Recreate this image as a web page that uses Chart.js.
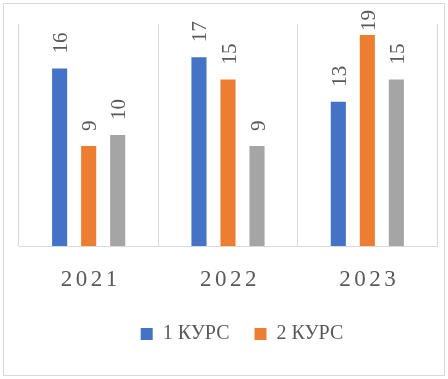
<!DOCTYPE html>
<html>
<head>
<meta charset="utf-8">
<script src="https://cdn.jsdelivr.net/npm/chart.js@4/dist/chart.umd.min.js"></script>
<style>
html,body{margin:0;padding:0;background:#fff;}
#wrap{position:relative;width:448px;height:379px;}
</style>
</head>
<body>
<div id="wrap"><canvas id="c" width="448" height="379"></canvas></div>
<script>
const categories = ['2021', '2022', '2023'];
const course1 = [16, 17, 13];
const course2 = [9, 15, 19];
const course3 = [10, 9, 15];
const seriesNames = ['1 КУРС', '2 КУРС', '3 КУРС'];
const yMax = 20;

const SERIF = "Liberation Serif";
Chart.defaults.font.family = SERIF;

const borderPlugin = {
  id: 'outerBorder',
  beforeDraw(chart) {
    const c = chart.ctx;
    c.save();
    c.fillStyle = '#fff';
    c.fillRect(0, 0, chart.width, chart.height);
    c.strokeStyle = '#d9d9d9';
    c.lineWidth = 1;
    c.strokeRect(3.5, 3.5, 441, 372);
    c.restore();
    const xs = chart.scales.x;
    if (xs && !xs._patched) {
      const orig = xs.drawLabels;
      xs.drawLabels = function (area) {
        const cx = this.ctx;
        cx.save();
        cx.letterSpacing = '3.5px';
        cx.translate(2, 0);
        orig.call(this, area);
        cx.restore();
      };
      xs._patched = true;
    }
    const lg = chart.legend;
    if (lg && !lg._patched) {
      const origL = lg.draw;
      lg.draw = function () {
        const cx = this.ctx;
        cx.save();
        cx.translate(14, 0);
        origL.apply(this, arguments);
        cx.restore();
      };
      lg._patched = true;
    }
  }
};

const labelPlugin = {
  id: 'vLabels',
  afterDatasetsDraw(chart) {
    const c = chart.ctx;
    c.save();
    c.font = '21px "Liberation Serif"';
    c.fillStyle = '#595959';
    c.textAlign = 'left';
    c.textBaseline = 'middle';
    chart.data.datasets.forEach((ds, di) => {
      const meta = chart.getDatasetMeta(di);
      meta.data.forEach((bar, i) => {
        const txt = String(ds.data[i]);
        const w = c.measureText(txt).width;
        let start = bar.y - 15;
        if (start - w < 10) start = 10 + w;
        c.save();
        c.translate(bar.x + 2, start);
        c.rotate(-Math.PI / 2);
        c.fillText(txt, 0, 0);
        c.restore();
      });
    });
    c.restore();
  }
};

new Chart(document.getElementById('c'), {
  type: 'bar',
  data: {
    labels: categories,
    datasets: [
      { label: seriesNames[0], data: course1, backgroundColor: '#4472C4' },
      { label: seriesNames[1], data: course2, backgroundColor: '#ED7D31' },
      { label: seriesNames[2], data: course3, backgroundColor: '#A5A5A5' }
    ]
  },
  options: {
    responsive: false,
    animation: false,
    devicePixelRatio: 1,
    categoryPercentage: 0.625,
    barPercentage: 0.52,
    layout: { padding: { left: 19, right: 11, top: 24, bottom: 25 } },
    plugins: {
      tooltip: { enabled: false },
      legend: {
        position: 'bottom',
        labels: {
          boxWidth: 12,
          boxHeight: 12,
          padding: 25,
          color: '#595959',
          font: { family: SERIF, size: 20 },
          filter: (item) => item.datasetIndex < 2
        }
      }
    },
    scales: {
      x: {
        grid: { display: true, color: '#d9d9d9', drawTicks: false, offset: true },
        border: { display: true, color: '#d9d9d9' },
        ticks: { color: '#595959', padding: 20, font: { family: SERIF, size: 23 } },
        afterFit: (s) => { s.height = 53; }
      },
      y: {
        display: false,
        min: 0,
        max: yMax
      }
    }
  },
  plugins: [borderPlugin, labelPlugin]
});
</script>
</body>
</html>
